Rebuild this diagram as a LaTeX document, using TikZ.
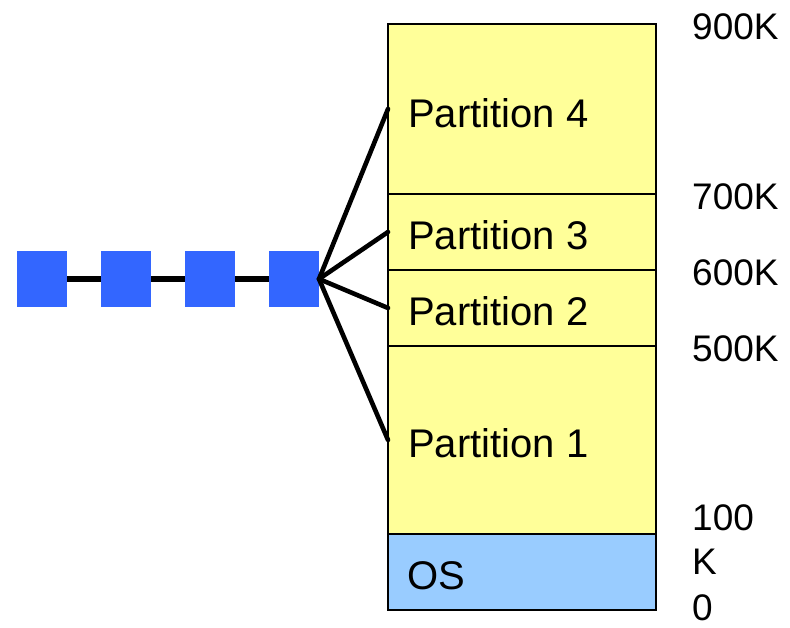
\documentclass[tikz,border=0pt]{standalone}
\usepackage{fontspec}
\setmainfont{Liberation Sans}
\usetikzlibrary{positioning}

\definecolor{partyellow}{HTML}{FFFF99}
\definecolor{osblue}{HTML}{99CCFF}
\definecolor{jobblue}{HTML}{3366FF}

\begin{document}
\begin{tikzpicture}[x=1pt, y=1pt]

	\tikzstyle{part}=[draw=black, line width=1.4pt, fill=partyellow, minimum width=268, inner sep=0, outer sep=0];
	\tikzstyle{job}=[fill=jobblue, minimum width=50, minimum height=56, inner sep=0, outer sep=0];
	\tikzstyle{plabel}=[anchor=west, inner sep=0, font=\fontsize{40}{46}\selectfont];
	\tikzstyle{addr}=[anchor=west, inner sep=0, font=\fontsize{37}{44}\selectfont];

	\useasboundingbox (0,0) rectangle (790,628);

	% memory column, top to bottom
	\node (p4) [part, minimum height=170, anchor=north west] at (388,604) {};
	\node (p3) [part, minimum height=76, below=0pt of p4] {};
	\node (p2) [part, minimum height=76, below=0pt of p3] {};
	\node (p1) [part, minimum height=188, below=0pt of p2] {};
	\node (os) [part, fill=osblue, minimum height=76, below=0pt of p1] {};

	\node (p4 label) [plabel, right=20pt of p4.west, yshift=-4pt] {Partition 4};
	\node (p3 label) [plabel, right=20pt of p3.west, yshift=-3pt] {Partition 3};
	\node (p2 label) [plabel, right=20pt of p2.west, yshift=-3pt] {Partition 2};
	\node (p1 label) [plabel, right=20pt of p1.west, yshift=-3pt] {Partition 1};
	\node (os label) [plabel, right=19pt of os.west, yshift=-4pt] {OS};

	% addresses
	\node (a900) [addr, right=36pt of p4.north east, yshift=-3pt] {900K};
	\node (a700) [addr, right=36pt of p4.south east, yshift=-3pt] {700K};
	\node (a600) [addr, right=36pt of p3.south east, yshift=-3pt] {600K};
	\node (a500) [addr, right=36pt of p2.south east, yshift=-3pt] {500K};
	\node (a100) [addr, align=left, right=36pt of p1.south east, yshift=-6pt] {100\\K};
	\node (a0) [addr, right=36pt of os.south east, yshift=2pt] {0};

	% job queue
	\node (q1) [job] at (42,349) {};
	\node (q2) [job, right=34pt of q1] {};
	\node (q3) [job, right=34pt of q2] {};
	\node (q4) [job, right=34pt of q3] {};

	\draw [line width=6pt] (q1) -- (q2);
	\draw [line width=6pt] (q2) -- (q3);
	\draw [line width=6pt] (q3) -- (q4);

	\draw [line width=4.6pt, line cap=round] (q4.east) -- (p4.west);
	\draw [line width=4.6pt, line cap=round] (q4.east) -- (p3.west);
	\draw [line width=4.6pt, line cap=round] (q4.east) -- (p2.west);
	\draw [line width=4.6pt, line cap=round] (q4.east) -- (p1.west);

\end{tikzpicture}
\end{document}
